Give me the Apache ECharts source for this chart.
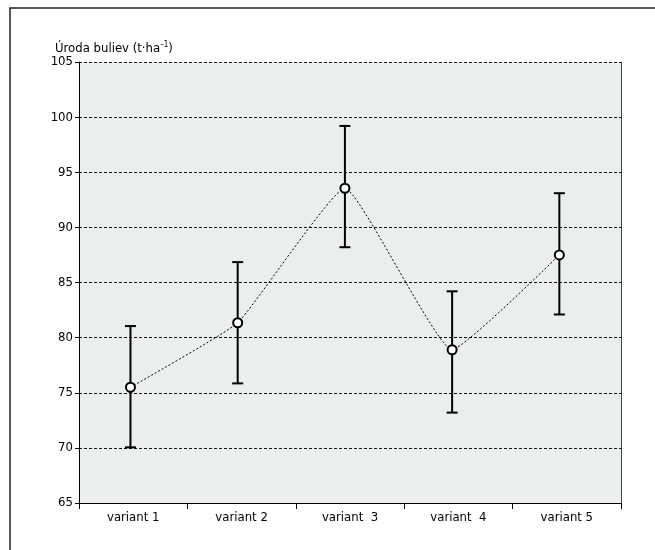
<!DOCTYPE html>
<html>
<head>
<meta charset="utf-8">
<script src="https://cdn.jsdelivr.net/npm/echarts@6/dist/echarts.min.js"></script>
<style>
html,body{margin:0;padding:0;background:#fff;}
#chart{width:655px;height:550px;}
</style>
</head>
<body>
<div id="chart"></div>
<script>
// ---- data ----
const categories = ['variant 1', 'variant 2', 'variant  3', 'variant  4', 'variant 5'];
const positions = [1, 2, 3, 4, 5];
const means = [75.5, 81.35, 93.55, 78.9, 87.5];
const lows = [70.05, 75.85, 88.2, 73.2, 82.1];
const highs = [81.05, 86.85, 99.2, 84.2, 93.1];
const yTicks = {min: 65, max: 105, step: 5};
const yTitle = 'Úroda buliev (t·ha';

const FONT = "'Liberation Sans Narrow', 'Arial Narrow', 'DejaVu Sans Condensed', sans-serif";

const chart = echarts.init(document.getElementById('chart'), null, {renderer: 'canvas'});

const lineData = positions.map((p, i) => [p, means[i]]);
const errData = positions.map((p, i) => [p, lows[i], highs[i]]);

const option = {
  backgroundColor: '#ffffff',
  animation: false,
  title: {
    text: yTitle + '{sup|–1})',
    left: 50,
    top: 36,
    textStyle: {
      fontFamily: FONT, fontSize: 13, fontWeight: 'normal', color: '#000',
      rich: { sup: { fontFamily: FONT, fontSize: 8, color: '#000', padding: [0, 0, 7, 0] } }
    }
  },
  graphic: [{
    type: 'rect',
    shape: {x: 10, y: 8, width: 700, height: 600},
    style: {fill: 'none', stroke: '#222', lineWidth: 1.5},
    silent: true
  }],
  grid: {
    left: 79, top: 62, width: 542, height: 441,
    show: true, backgroundColor: '#eceeed', borderWidth: 0
  },
  xAxis: [{
    type: 'category',
    data: categories,
    boundaryGap: true,
    axisLine: {show: true, lineStyle: {color: '#000', width: 1}},
    axisTick: {show: true, length: 6, lineStyle: {color: '#000'}},
    axisLabel: {fontFamily: FONT, fontSize: 13, color: '#000', margin: 8},
    splitLine: {show: false}
  }, {
    type: 'value',
    min: 0.52, max: 5.575,
    show: false
  }],
  yAxis: [{
    type: 'value',
    min: yTicks.min, max: yTicks.max, interval: yTicks.step,
    axisLine: {show: true, lineStyle: {color: '#000', width: 1}},
    axisTick: {show: true, length: 4, lineStyle: {color: '#000'}},
    axisLabel: {fontFamily: FONT, fontSize: 13, color: '#000', margin: 6},
    splitLine: {show: true, lineStyle: {color: '#111', type: [3, 2], width: 1}}
  }, {
    type: 'value',
    position: 'right',
    min: yTicks.min, max: yTicks.max, interval: yTicks.step,
    axisLine: {show: true, lineStyle: {color: '#444', width: 1}},
    axisTick: {show: false},
    axisLabel: {show: false},
    splitLine: {show: false}
  }],
  series: [{
    type: 'custom',
    xAxisIndex: 1,
    yAxisIndex: 0,
    data: errData,
    z: 3,
    renderItem: function (params, api) {
      const x = api.value(0);
      const lo = api.coord([x, api.value(1)]);
      const hi = api.coord([x, api.value(2)]);
      const cap = 5.5;
      const st = {stroke: '#000', lineWidth: 2};
      return {
        type: 'group',
        children: [
          {type: 'line', shape: {x1: lo[0], y1: lo[1], x2: hi[0], y2: hi[1]}, style: st},
          {type: 'line', shape: {x1: lo[0] - cap, y1: lo[1], x2: lo[0] + cap, y2: lo[1]}, style: st},
          {type: 'line', shape: {x1: hi[0] - cap, y1: hi[1], x2: hi[0] + cap, y2: hi[1]}, style: st}
        ]
      };
    }
  }, {
    type: 'line',
    xAxisIndex: 1,
    yAxisIndex: 0,
    data: lineData,
    smooth: 0.12,
    z: 4,
    lineStyle: {color: '#000', width: 1, type: [2, 2]},
    symbol: 'circle',
    symbolSize: 9,
    itemStyle: {color: '#fff', borderColor: '#000', borderWidth: 2}
  }]
};

chart.setOption(option);
</script>
</body>
</html>
